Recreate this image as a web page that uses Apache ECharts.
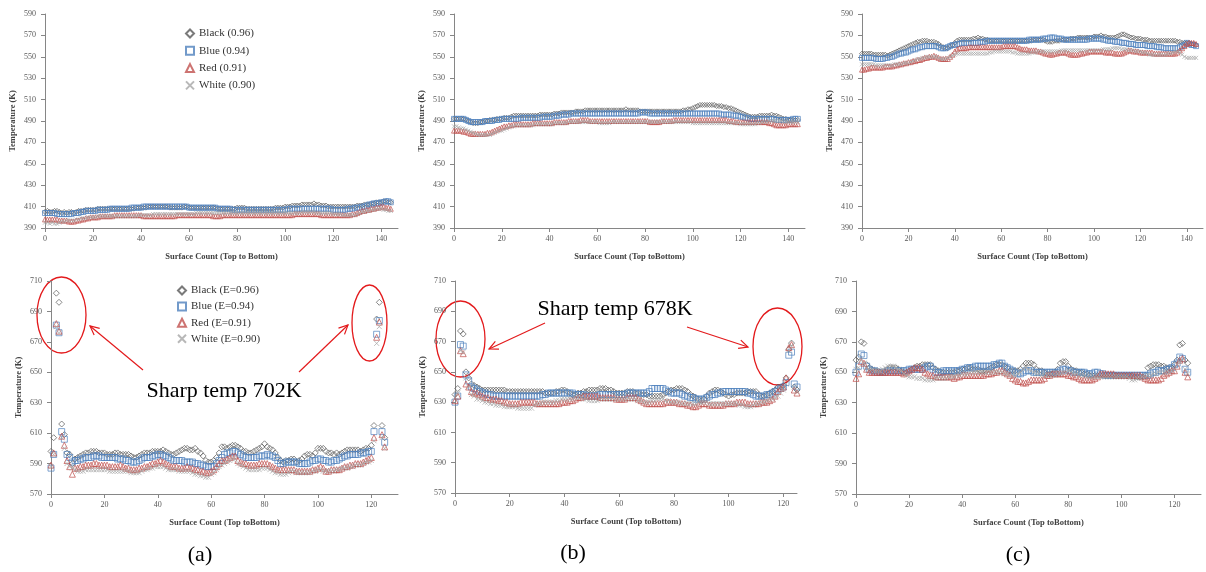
<!DOCTYPE html>
<html>
<head>
<meta charset="utf-8">
<script src="https://cdn.jsdelivr.net/npm/echarts@6/dist/echarts.min.js"></script>
<style>
  html, body { margin: 0; padding: 0; background: #fff; }
  #main { width: 1206px; height: 572px; }
</style>
</head>
<body>
<div id="main"></div>
<script>
// 顶部三幅图：0..144
const blackA1 = [405,406,405,405,406,406,405,404,405,404, 405,405,404,405,406,406,406,407,407,407, 407,407,408,408,408,408,408,408,408,408, 408,408,408,408,408,408,408,408,409,409, 409,409,409,410,410,410,410,410,410,410, 410,410,409,409,409,409,409,409,410,410, 409,409,409,409,409,409,409,409,409,409, 409,409,408,408,408,408,408,408,408,408, 409,409,409,409,408,408,408,408,408,408, 408,408,408,408,408,408,409,409,409,409, 410,410,410,411,411,411,411,412,412,412, 412,412,413,412,412,411,411,411,410,410, 410,410,410,410,410,410,410,410,410,410, 411,411,411,412,412,412,413,413,414,414, 414,415,415,414,414]
const blueA1 = [404,404,404,404,404,403,403,403,403,403, 403,403,404,404,404,405,405,406,406,406, 406,406,407,407,407,407,407,408,408,408, 408,408,408,408,408,408,409,409,409,409, 409,410,410,410,410,410,410,410,410,410, 410,410,410,410,410,410,410,410,410,410, 409,409,409,409,409,409,409,409,409,409, 409,409,408,408,408,408,408,408,407,407, 407,407,407,407,407,407,407,407,407,407, 407,407,407,407,407,407,407,407,407,407, 407,408,408,408,408,408,408,408,408,408, 408,408,408,408,408,408,408,408,408,408, 407,407,407,407,407,407,408,408,408,409, 409,409,410,410,411,412,412,413,413,413, 414,414,415,415,414]
const redA1 = [398,398,398,398,398,398,397,397,397,397, 396,396,396,397,397,398,398,399,399,400, 400,400,400,401,401,401,401,401,401,402, 402,402,402,402,402,402,402,402,402,402, 402,401,401,401,401,401,401,401,401,401, 401,401,401,401,401,402,402,402,402,402, 402,402,402,402,402,402,402,402,402,402, 401,401,401,401,402,402,402,402,402,402, 402,402,402,402,402,402,402,402,402,402, 402,402,402,402,402,402,402,402,402,402, 402,402,402,402,403,403,403,403,403,403, 403,403,403,403,403,402,402,402,402,402, 402,402,402,402,402,402,402,402,403,403, 404,405,406,406,407,407,408,408,409,409, 410,410,409,409,408]
const whiteA1 = [395,395,394,395,394,394,395,396,396,397, 397,397,397,398,398,399,399,399,400,400, 400,400,401,401,401,401,401,401,401,401, 401,401,401,401,401,401,401,401,401,402, 402,402,402,402,402,403,403,403,403,403, 403,403,403,403,403,403,403,403,403,403, 403,403,403,404,404,404,404,404,404,404, 404,404,404,404,404,404,404,404,404,404, 404,404,404,404,404,404,404,404,404,404, 404,404,404,404,404,404,404,404,404,404, 404,404,404,404,404,404,404,405,405,405, 405,405,405,404,404,404,404,404,404,404, 403,403,403,403,402,402,402,402,402,402, 403,404,405,405,406,406,407,407,408,408, 408,407,407,406,406]

const blackB1 = [492,492,492,492,492,491,490,489,488,488, 488,489,489,490,490,491,491,491,492,492, 492,493,493,493,494,495,495,495,495,495, 495,495,495,495,495,495,496,496,496,496, 496,496,497,497,497,498,498,498,498,498, 498,499,499,499,499,500,500,500,500,500, 500,500,500,500,500,500,500,500,500,500, 500,500,501,500,500,500,500,500,499,499, 499,499,499,499,499,499,499,499,499,499, 499,499,499,499,499,499,500,500,501,501, 502,503,504,505,505,505,505,505,505,505, 504,504,504,503,503,502,502,501,500,499, 498,497,496,495,494,494,494,494,495,495, 495,495,495,496,495,495,494,493,492,492, 491,491,491,491,491]
const blueB1 = [492,492,492,492,492,491,490,489,489,489, 489,489,489,490,490,490,490,491,491,491, 492,492,492,492,492,492,492,492,493,493, 493,493,493,493,493,493,493,494,494,494, 494,494,495,495,495,496,496,496,496,497, 497,497,497,497,497,497,497,497,497,497, 497,497,497,497,497,497,497,497,497,497, 497,497,497,497,497,497,497,497,498,498, 498,498,497,497,497,497,497,497,497,497, 497,497,497,497,497,497,497,497,497,497, 497,497,497,497,497,497,497,497,497,497, 497,497,496,496,496,496,496,495,495,495, 494,494,493,493,492,492,492,492,492,492, 492,492,492,492,492,491,491,491,491,491, 491,491,492,492,492]
const redB1 = [481,481,481,481,480,480,479,478,478,478, 478,478,478,478,479,479,480,481,482,483, 484,485,485,486,486,487,487,487,487,487, 487,487,487,488,488,488,488,488,488,488, 488,488,489,489,489,489,489,489,490,490, 490,490,490,491,491,491,491,490,490,490, 490,490,490,490,490,490,490,490,490,490, 490,490,490,490,490,490,490,490,490,490, 490,490,489,489,489,489,489,490,490,490, 490,490,491,491,491,491,491,491,491,491, 491,491,491,491,491,491,491,491,491,491, 491,491,491,491,491,490,490,490,489,489, 489,489,489,489,489,489,489,489,489,489, 489,489,488,488,487,486,486,486,486,486, 487,487,487,487,487]
const whiteB1 = [485,485,484,483,483,482,481,480,479,478, 477,477,477,477,477,477,478,479,480,481, 481,482,483,484,485,485,486,486,486,486, 486,486,486,486,487,487,487,487,487,487, 487,487,488,488,488,488,488,488,489,489, 489,489,489,489,489,489,489,489,489,489, 489,488,488,488,488,488,489,489,489,489, 489,489,489,489,489,489,489,489,489,489, 489,489,489,489,489,489,489,489,489,489, 489,489,489,489,489,489,489,489,489,489, 488,488,488,488,488,488,488,488,488,488, 488,488,488,488,488,488,488,488,488,488, 487,487,487,487,487,487,487,488,488,489, 489,489,490,490,490,490,490,490,489,489, 489,489,489,489,489]

const blackC1 = [553,553,553,553,553,552,552,552,552,552, 552,551,552,553,554,555,556,557,558,559, 560,561,562,563,564,564,565,565,565,564, 564,564,563,562,560,559,558,558,560,561, 563,565,566,566,566,566,566,566,567,567, 568,567,567,566,566,565,565,565,565,565, 565,565,565,565,565,565,565,565,565,565, 565,565,565,565,566,566,566,566,566,565, 564,564,564,565,565,565,566,566,566,566, 567,567,567,568,568,568,568,568,568,568, 569,569,569,570,569,569,568,568,568,568, 569,570,571,571,570,569,568,568,567,567, 567,566,566,566,565,565,565,565,565,565, 565,565,565,565,565,565,564,564,563,563, 563,563,562,562,561]
const blueC1 = [549,549,549,549,549,549,548,548,548,548, 549,549,550,550,551,552,553,553,554,554, 555,556,557,557,558,559,559,560,560,560, 560,560,560,559,558,558,558,559,560,561, 561,562,562,563,563,563,563,563,563,563, 563,564,564,564,565,565,565,565,565,565, 565,565,565,565,565,565,565,565,565,565, 565,565,566,566,566,566,566,566,567,567, 567,568,568,568,567,567,567,566,566,566, 566,566,566,566,566,566,566,566,567,567, 567,567,567,567,566,566,565,565,565,564, 564,564,563,563,563,562,562,562,561,561, 561,561,561,560,560,560,560,559,559,559, 558,558,558,558,558,558,558,559,560,561, 563,562,561,561,560]
const redC1 = [538,538,539,539,540,540,540,540,540,540, 541,541,541,541,542,542,543,543,544,544, 545,545,546,546,547,547,548,549,549,550, 550,551,550,549,548,548,548,548,550,552, 555,557,558,558,558,558,559,559,559,559, 559,559,559,559,559,559,559,559,559,559, 559,560,560,560,560,560,560,559,558,557, 557,557,556,556,556,556,555,555,554,553, 553,552,552,553,553,554,554,554,554,553, 552,552,552,552,553,553,554,554,555,555, 555,555,555,555,555,554,554,554,554,553, 553,553,553,554,555,556,556,555,555,555, 554,554,554,554,554,554,553,553,553,553, 553,553,553,553,553,553,554,556,558,560, 562,563,563,563,562]
const whiteC1 = [543,543,543,543,543,543,542,542,542,542, 542,542,542,542,543,543,543,543,544,544, 544,545,546,547,548,548,549,549,550,550, 550,550,550,549,548,548,548,549,550,551, 552,553,553,553,553,553,553,553,553,553, 553,553,553,553,553,554,554,555,555,555, 555,555,555,555,555,554,554,553,553,553, 553,553,553,554,554,554,555,555,555,555, 555,555,555,555,555,555,556,556,556,556, 556,556,556,556,556,556,556,556,556,556, 556,556,556,556,557,557,557,557,558,558, 558,558,557,557,557,556,556,556,555,555, 555,554,554,553,552,552,552,552,552,552, 552,552,553,553,554,555,555,554,552,550, 549,549,549,549,549]

// 底部三幅图：0..125
const blackA2 = [598,607,702,696,616,609,597,596,590,593, 594,595,596,597,597,598,598,598,597,597, 597,596,596,596,597,597,596,596,596,596, 595,594,594,595,596,597,597,597,598,598, 598,598,599,598,597,596,596,597,598,599, 600,600,599,599,600,598,597,595,592,591, 591,592,594,597,601,601,600,601,602,602, 601,600,598,598,597,597,598,599,600,601, 603,601,600,599,597,594,592,591,592,592, 593,593,591,592,593,595,596,596,595,597, 600,600,600,598,597,597,596,597,596,597, 598,599,599,599,599,599,598,599,600,600, 602,615,685,696,615,607]
const blueA2 = [587,596,681,676,611,606,596,594,591,592, 592,593,593,594,594,594,595,595,595,594, 594,594,594,594,594,593,593,593,592,592, 591,591,591,592,593,594,594,594,595,595, 596,596,595,595,594,593,592,592,592,592, 591,591,591,591,590,590,589,589,588,588, 588,588,590,592,594,596,597,597,598,598, 597,596,595,594,594,594,594,594,595,595, 595,596,595,595,594,592,590,590,591,591, 591,591,591,590,590,590,590,591,592,592, 593,593,592,592,591,591,592,592,593,594, 595,595,596,596,596,596,597,597,597,598, 598,611,675,684,611,604]
const redA2 = [589,597,682,677,608,602,592,588,583,587, 587,588,588,589,589,589,590,590,589,589, 589,589,588,588,588,588,589,588,587,587, 586,586,586,587,587,588,588,589,590,590, 591,592,591,590,589,588,588,588,587,587, 587,588,587,587,586,586,585,585,584,584, 585,586,588,590,592,592,593,594,595,595, 592,591,590,590,589,589,589,589,590,590, 590,590,589,588,587,586,586,586,586,586, 586,586,585,585,585,585,585,585,586,586, 587,588,587,585,585,586,586,586,586,587, 588,588,589,589,590,590,590,591,592,593, 594,607,673,683,609,601]
const whiteA2 = [588,596,680,676,607,600,590,588,587,586, 585,585,585,586,586,586,586,586,586,586, 586,586,585,585,585,585,585,585,585,585, 584,584,584,584,585,586,586,587,587,588, 588,588,588,587,586,586,586,586,585,585, 585,585,585,584,583,583,582,582,581,581, 583,584,586,588,589,590,591,592,593,593, 590,589,588,587,586,586,586,586,586,587, 587,587,586,585,584,584,583,583,583,584, 585,585,584,584,584,584,584,584,585,585, 586,586,585,585,585,585,585,586,586,587, 587,587,588,588,589,589,589,590,591,591, 592,605,669,680,607,600]

const blackB2 = [635,639,677,675,650,646,642,641,640,639, 638,638,638,638,638,638,638,638,638,637, 637,637,637,637,637,637,637,637,637,637, 637,637,637,636,636,636,636,637,637,638, 638,637,636,635,635,636,636,637,637,638, 638,638,638,639,639,639,638,638,637,636, 636,636,636,637,637,637,636,636,635,635, 635,634,634,634,634,634,635,636,637,638, 638,639,639,639,638,637,635,634,633,632, 631,632,634,636,637,638,638,637,636,635, 634,635,635,636,636,636,636,637,637,637, 637,635,634,634,635,636,637,638,640,640, 641,646,665,669,640,638]
const blueB2 = [630,634,668,667,648,644,640,639,638,637, 636,636,635,635,634,634,634,634,634,634, 634,634,634,634,634,634,634,634,634,634, 634,634,635,635,636,636,636,636,636,636, 636,636,636,636,635,635,635,635,634,634, 634,634,634,635,635,635,635,635,635,635, 635,635,635,636,636,636,636,636,636,636, 636,637,639,639,639,639,639,638,637,636, 636,636,636,635,634,634,633,633,632,632, 632,632,633,634,635,635,636,636,637,637, 637,637,637,637,637,637,637,636,636,635, 634,634,634,634,635,635,636,637,638,639, 640,643,661,663,642,640]
const redB2 = [631,634,664,662,642,640,637,636,636,635, 634,633,633,632,632,632,631,631,630,630, 629,629,629,629,630,630,630,630,630,630, 629,629,629,629,629,629,629,629,629,630, 630,630,631,631,632,633,633,634,634,634, 634,634,634,633,633,633,633,633,633,632, 632,632,632,633,633,633,633,632,631,630, 629,629,629,629,629,629,629,630,630,630, 630,630,629,629,629,628,628,627,627,628, 629,629,629,628,628,628,628,628,628,629, 629,629,629,630,630,630,630,629,629,629, 629,629,630,630,630,631,632,634,637,639, 640,646,666,668,638,636]
const whiteB2 = [633,636,664,663,646,640,635,634,632,632, 631,630,630,629,629,628,628,628,627,627, 627,627,627,626,626,626,626,626,626,628, 629,629,630,630,630,630,630,631,631,632, 632,632,632,632,633,633,633,632,632,631, 631,631,631,632,632,632,632,632,632,632, 632,632,632,632,632,632,632,631,631,630, 630,630,631,631,632,632,632,631,631,630, 630,630,630,629,629,629,629,629,629,630, 630,630,630,629,629,629,629,629,629,629, 629,629,629,629,628,628,627,627,627,628, 629,629,630,630,631,632,632,633,634,636, 638,642,664,667,640,637]

const blackC2 = [658,660,670,669,655,653,652,651,651,650, 650,651,652,653,653,653,652,651,650,650, 651,652,653,654,654,655,655,655,655,653, 652,651,650,650,650,650,650,650,651,651, 652,652,653,653,652,652,652,651,651,651, 652,653,654,655,655,655,654,653,651,651, 651,651,652,654,656,656,656,655,652,651, 651,650,649,649,649,650,652,656,657,657, 654,652,651,651,650,650,649,649,648,648, 648,648,648,648,648,648,648,648,648,648, 648,648,648,648,648,647,647,647,647,648, 653,654,655,655,655,654,654,653,653,653, 655,658,668,669,658,656]
const blueC2 = [650,654,662,661,654,652,651,651,650,650, 650,650,651,651,651,651,651,651,651,651, 652,652,652,652,652,652,653,654,654,652, 650,650,650,651,651,651,651,651,651,651, 652,652,653,653,653,654,654,654,654,654, 654,654,655,655,656,656,654,653,652,651, 650,649,649,650,651,651,651,650,650,650, 650,650,650,650,650,650,650,651,652,652, 651,651,650,650,650,650,650,649,649,649, 650,650,649,649,648,648,648,648,648,648, 648,648,648,648,648,648,648,648,648,648, 648,649,650,650,651,651,651,652,652,653, 655,656,660,659,652,650]
const redC2 = [646,649,657,656,652,650,650,650,650,650, 650,650,650,650,650,650,650,650,649,650, 651,652,653,653,653,652,650,649,648,648, 647,647,647,647,647,647,647,646,647,647, 648,648,648,648,648,648,648,648,648,649, 649,649,650,650,651,651,650,649,648,646, 645,644,644,643,643,644,645,645,645,645, 645,646,648,648,649,649,649,649,649,649, 648,648,647,647,646,645,645,645,645,645, 646,647,649,649,649,649,649,649,648,648, 648,648,648,648,648,648,648,648,647,646, 645,645,645,645,645,646,648,649,650,651, 651,654,658,659,650,647]
const whiteC2 = [652,653,658,656,653,652,652,651,651,651, 652,653,654,654,654,653,652,651,649,648, 647,647,647,646,646,646,645,645,645,645, 646,646,646,646,646,647,647,647,648,648, 649,649,649,650,650,650,650,650,650,650, 650,650,650,650,650,650,649,649,648,648, 648,649,650,652,653,652,651,650,649,649, 648,648,648,648,648,648,649,649,650,650, 651,650,649,649,648,648,648,647,647,647, 647,647,647,647,647,647,647,647,647,647, 647,647,647,646,645,645,646,646,647,647, 648,648,649,649,650,650,650,650,650,651, 652,655,657,658,652,649]

const xTicks = [0, 20, 40, 60, 80, 100, 120, 140]
const topNames = ['Black (0.96)', 'Blue (0.94)', 'Red (0.91)', 'White (0.90)']
const bottomNames = ['Black (E=0.96)', 'Blue (E=0.94)', 'Red (E=0.91)', 'White (E=0.90)']

const SERIF = "'Liberation Serif', 'Times New Roman', serif"
const COLORS = ['#595959', '#4f81bd', '#c0504d', '#a6a6a6']
const SYMBOLS = ['diamond', 'rect', 'triangle', 'path://M0,0L10,10M10,0L0,10']

// 每幅图的网格位置和坐标范围
const panels = [
  { left: 45, top: 14, width: 353, height: 214, xMax: 147, yMin: 390, yMax: 590, xName: 'Surface Count (Top to Bottom)', names: topNames, data: [blackA1, blueA1, redA1, whiteA1], size: 5 },
  { left: 454, top: 14, width: 351, height: 214, xMax: 147, yMin: 390, yMax: 590, xName: 'Surface Count (Top toBottom)', names: topNames, data: [blackB1, blueB1, redB1, whiteB1], size: 5 },
  { left: 862, top: 14, width: 341, height: 214, xMax: 147, yMin: 390, yMax: 590, xName: 'Surface Count (Top toBottom)', names: topNames, data: [blackC1, blueC1, redC1, whiteC1], size: 5 },
  { left: 51, top: 281, width: 347, height: 213, xMax: 130, yMin: 570, yMax: 710, xName: 'Surface Count (Top toBottom)', names: bottomNames, data: [blackA2, blueA2, redA2, whiteA2], size: 6 },
  { left: 455, top: 281, width: 342, height: 212, xMax: 125, yMin: 570, yMax: 710, xName: 'Surface Count (Top toBottom)', names: bottomNames, data: [blackB2, blueB2, redB2, whiteB2], size: 6 },
  { left: 856, top: 281, width: 345, height: 213, xMax: 130, yMin: 570, yMax: 710, xName: 'Surface Count (Top toBottom)', names: bottomNames, data: [blackC2, blueC2, redC2, whiteC2], size: 6 },
]

const axisLine = { show: true, lineStyle: { color: '#868686', width: 1 } }
const axisTick = { show: true, length: 4, lineStyle: { color: '#868686' } }
const labelBase = { color: '#595959', fontFamily: SERIF, fontSize: 8 }
const nameStyle = { color: '#404040', fontFamily: SERIF, fontSize: 8.5, fontWeight: 'bold' }

const grid = [], xAxis = [], yAxis = [], series = []
panels.forEach((p, i) => {
  const ticks = xTicks.filter((t) => t <= p.xMax)
  grid.push({ left: p.left, top: p.top, width: p.width, height: p.height, containLabel: false })
  xAxis.push({
    type: 'value', gridIndex: i, min: 0, max: p.xMax, interval: 20,
    name: p.xName, nameLocation: 'middle', nameGap: 24, nameTextStyle: nameStyle,
    axisLine, splitLine: { show: false },
    axisTick: { ...axisTick, customValues: ticks },
    axisLabel: { ...labelBase, margin: 7, customValues: ticks },
  })
  yAxis.push({
    type: 'value', gridIndex: i, min: p.yMin, max: p.yMax, interval: 20,
    name: 'Temperature (K)', nameLocation: 'middle', nameGap: 28, nameTextStyle: nameStyle,
    axisLine, axisTick, splitLine: { show: false }, axisLabel: { ...labelBase, margin: 9 },
  })
  p.data.forEach((arr, k) => {
    series.push({
      name: p.names[k], type: 'scatter', xAxisIndex: i, yAxisIndex: i,
      symbol: SYMBOLS[k], symbolSize: k === 3 ? p.size - 1 : p.size,
      itemStyle: { color: 'rgba(0,0,0,0)', borderColor: COLORS[k], borderWidth: 0.9 },
      emphasis: { disabled: true }, silent: true, animation: false,
      data: arr.map((v, x) => [x, v]),
    })
  })
})

const legendText = { color: '#333', fontFamily: SERIF, fontSize: 11 }
const legend = [
  { data: topNames, orient: 'vertical', left: 180, top: 23, itemWidth: 8, itemHeight: 8, itemGap: 6.3, textStyle: legendText, selectedMode: false },
  { data: bottomNames, orient: 'vertical', left: 172, top: 280, itemWidth: 8, itemHeight: 8, itemGap: 5.1, textStyle: legendText, selectedMode: false },
]

// 红色标注：椭圆 + 箭头
const RED = '#e31a1c'
function arrow(x0, y0, x1, y1) {
  const a = Math.atan2(y1 - y0, x1 - x0), L = 10, w = 0.45
  const p1 = [x1 - L * Math.cos(a - w), y1 - L * Math.sin(a - w)]
  const p2 = [x1 - L * Math.cos(a + w), y1 - L * Math.sin(a + w)]
  return [
    { type: 'line', shape: { x1: x0, y1: y0, x2: x1, y2: y1 }, style: { stroke: RED, lineWidth: 1.2 } },
    { type: 'polyline', shape: { points: [p1, [x1, y1], p2] }, style: { stroke: RED, lineWidth: 1.2, fill: null } },
  ]
}
function ellipse(cx, cy, rx, ry) {
  return { type: 'ellipse', shape: { cx, cy, rx, ry }, style: { stroke: RED, lineWidth: 1.3, fill: null } }
}
function label(text, x, y, size) {
  return { type: 'text', x, y, style: { text, fontFamily: SERIF, fontSize: size, fill: '#000', align: 'center', verticalAlign: 'middle' } }
}

const graphic = [
  ellipse(61.5, 315, 24.5, 38), ellipse(369.5, 323, 17.5, 38),
  ellipse(460.5, 339, 24.5, 38), ellipse(777.5, 346.5, 24.5, 38.5),
  ...arrow(143, 370, 90, 326), ...arrow(299, 372, 348, 325),
  ...arrow(545, 323, 489, 349), ...arrow(687, 327, 748, 347),
  label('Sharp temp 702K', 224, 391, 22), label('Sharp temp 678K', 615, 309, 22),
  label('(a)', 200, 555, 22), label('(b)', 573, 553, 22), label('(c)', 1018, 555, 22),
]

const chart = echarts.init(document.getElementById('main'))
chart.setOption({ animation: false, grid, xAxis, yAxis, series, legend, graphic })
</script>
</body>
</html>
